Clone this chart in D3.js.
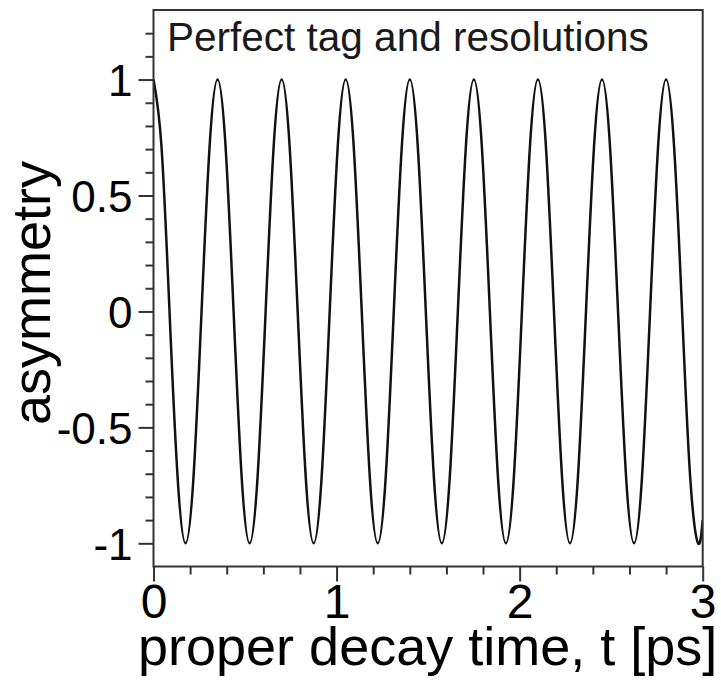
<!DOCTYPE html>
<html>
<head>
<meta charset="utf-8">
<script src="https://cdn.jsdelivr.net/npm/d3@7"></script>
<style>
  html, body { margin: 0; padding: 0; background: #fff; }
  svg { display: block; font-family: "Liberation Sans", Arial, Helvetica, sans-serif; }
</style>
</head>
<body>
<svg id="chart" width="721" height="681"></svg>
<script>
// ---- data ----
const titleText = "Perfect tag and resolutions";
const xLabel = "proper decay time, t [ps]";
const yLabel = "asymmetry";
const xDomain = [0, 3];
const yDomain = [-1.1, 1.3];
const xMajorTicks = [0, 1, 2, 3];
const xTickLabels = ["0", "1", "2", "3"];
const xMinorTicks = [0.2, 0.4, 0.6, 0.8, 1.2, 1.4, 1.6, 1.8, 2.2, 2.4, 2.6, 2.8];
const yMajorTicks = [-1, -0.5, 0, 0.5, 1];
const yTickLabels = ["-1", "-0.5", "0", "0.5", "1"];
const yMinorTicks = [-0.9, -0.8, -0.7, -0.6, -0.4, -0.3, -0.2, -0.1, 0.1, 0.2, 0.3, 0.4, 0.6, 0.7, 0.8, 0.9, 1.1, 1.2];

// decay time t [ps]
const times = [
  0, 0.04375, 0.0875, 0.13125, 0.175, 0.21875, 0.2625, 0.30625,
  0.35, 0.39375, 0.4375, 0.48125, 0.525, 0.56875, 0.6125, 0.65625,
  0.7, 0.74375, 0.7875, 0.83125, 0.875, 0.91875, 0.9625, 1.00625,
  1.05, 1.09375, 1.1375, 1.18125, 1.225, 1.26875, 1.3125, 1.35625,
  1.4, 1.44375, 1.4875, 1.53125, 1.575, 1.61875, 1.6625, 1.70625,
  1.75, 1.79375, 1.8375, 1.88125, 1.925, 1.96875, 2.0125, 2.05625,
  2.1, 2.14375, 2.1875, 2.23125, 2.275, 2.31875, 2.3625, 2.40625,
  2.45, 2.49375, 2.5375, 2.58125, 2.625, 2.66875, 2.7125, 2.75625,
  2.8, 2.84375, 2.8875, 2.93125, 2.975, 3.0
];
// asymmetry values
const asym = [
  1, 0.71, 0, -0.71, -1, -0.71, 0, 0.71,
  1, 0.71, 0, -0.71, -1, -0.71, 0, 0.71,
  1, 0.71, 0, -0.71, -1, -0.71, 0, 0.71,
  1, 0.71, 0, -0.71, -1, -0.71, 0, 0.71,
  1, 0.71, 0, -0.71, -1, -0.71, 0, 0.71,
  1, 0.71, 0, -0.71, -1, -0.71, 0, 0.71,
  1, 0.71, 0, -0.71, -1, -0.71, 0, 0.71,
  1, 0.71, 0, -0.71, -1, -0.71, 0, 0.71,
  1, 0.71, 0, -0.71, -1, -0.90
];

// ---- layout ----
const svg = d3.select("#chart");
const mLeft = 153.5, mRight = 702.7, mTop = 10, mBottom = 566.5;
const x = d3.scaleLinear().domain(xDomain).range([mLeft, mRight]);
const y = d3.scaleLinear().domain(yDomain).range([mBottom, mTop]);
const axisColor = "#333";

// clip
svg.append("defs").append("clipPath").attr("id", "clip")
  .append("rect").attr("x", mLeft).attr("y", mTop).attr("width", mRight - mLeft).attr("height", mBottom - mTop);

// curve
const pts = times.map((t, i) => [t, asym[i]]);
const line = d3.line().x(d => x(d[0])).y(d => y(d[1])).curve(d3.curveNatural);
svg.append("path").datum(pts)
  .attr("clip-path", "url(#clip)")
  .attr("fill", "none").attr("stroke", "#111").attr("stroke-width", 2.5)
  .attr("d", line);

// frame
svg.append("rect").attr("x", mLeft).attr("y", mTop).attr("width", mRight - mLeft).attr("height", mBottom - mTop)
  .attr("fill", "none").attr("stroke", axisColor).attr("stroke-width", 2);

// x axis
const xAxisMajor = d3.axisBottom(x).tickValues(xMajorTicks).tickSize(15)
  .tickFormat((d, i) => xTickLabels[i]).tickPadding(4);
const gx = svg.append("g").attr("transform", `translate(0,${mBottom})`).call(xAxisMajor);
gx.select(".domain").remove();
gx.selectAll(".tick line").attr("stroke", axisColor).attr("stroke-width", 2);
gx.selectAll(".tick text").attr("fill", "#000").attr("font-size", 48)
  .attr("font-family", "Liberation Sans, Arial, sans-serif").attr("dy", null).attr("y", 51.5);
const gxm = svg.append("g").attr("transform", `translate(0,${mBottom})`)
  .call(d3.axisBottom(x).tickValues(xMinorTicks).tickSize(8).tickFormat(""));
gxm.select(".domain").remove();
gxm.selectAll(".tick line").attr("stroke", axisColor).attr("stroke-width", 2);

// y axis
const yAxisMajor = d3.axisLeft(y).tickValues(yMajorTicks).tickSize(15)
  .tickFormat((d, i) => yTickLabels[i]);
const gy = svg.append("g").attr("transform", `translate(${mLeft},0)`).call(yAxisMajor);
gy.select(".domain").remove();
gy.selectAll(".tick line").attr("stroke", axisColor).attr("stroke-width", 2);
gy.selectAll(".tick text").attr("fill", "#000").attr("font-size", 44)
  .attr("font-family", "Liberation Sans, Arial, sans-serif").attr("x", -21).attr("dy", null).attr("y", 16);
const gym = svg.append("g").attr("transform", `translate(${mLeft},0)`)
  .call(d3.axisLeft(y).tickValues(yMinorTicks).tickSize(8).tickFormat(""));
gym.select(".domain").remove();
gym.selectAll(".tick line").attr("stroke", axisColor).attr("stroke-width", 2);

// title
svg.append("text").attr("x", 167).attr("y", 51).attr("font-size", 40.5).attr("fill", "#1a1a1a")
  .text(titleText);

// axis titles
svg.append("text").attr("x", 138).attr("y", 665).attr("font-size", 54).attr("fill", "#000")
  .text(xLabel);
svg.append("text").attr("transform", "translate(50,425) rotate(-90)").attr("font-size", 54).attr("fill", "#000")
  .text(yLabel);
</script>
</body>
</html>
